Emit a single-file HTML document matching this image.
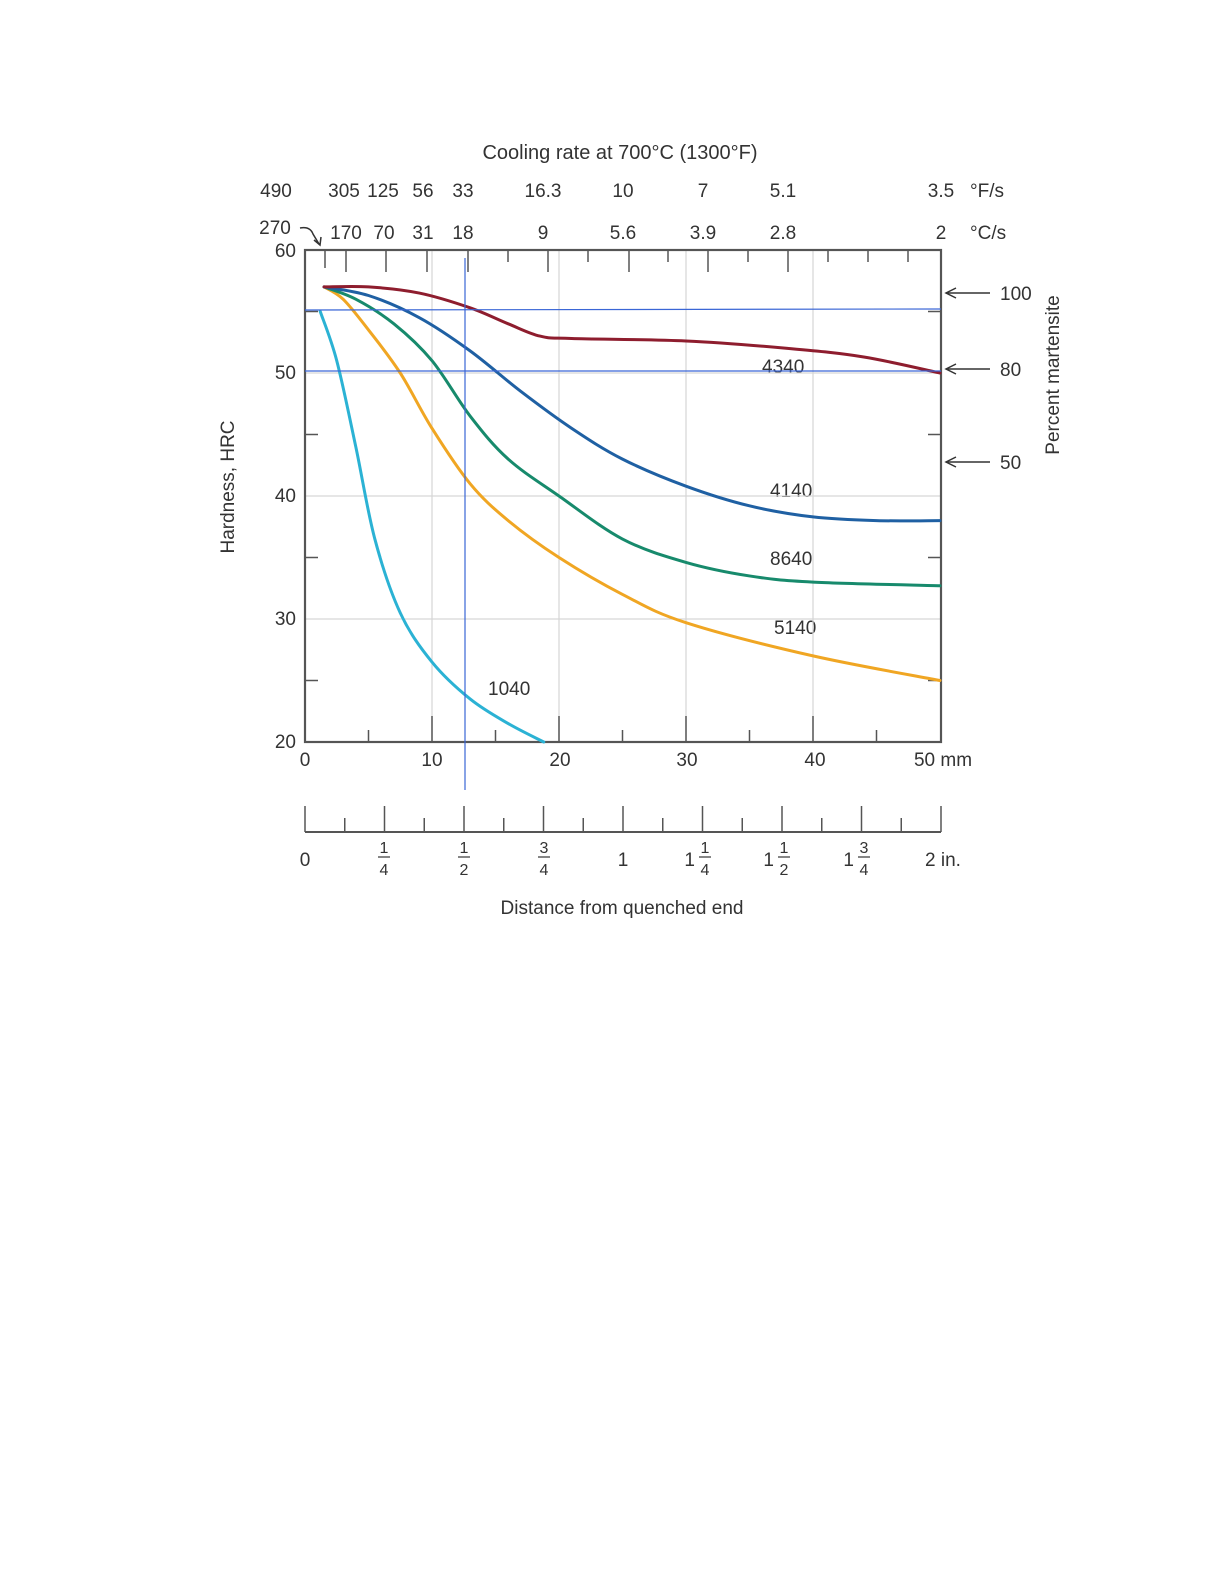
<!DOCTYPE html>
<html><head><meta charset="utf-8"><style>
body{margin:0;background:#fff}
svg text{font-family:"Liberation Sans",sans-serif;fill:#333}
</style></head><body>
<svg id="s" width="1225" height="1585" xmlns="http://www.w3.org/2000/svg">
<rect width="1225" height="1585" fill="#fff"/>
<g font-size="19">
<text x="620" y="159" text-anchor="middle" font-size="20">Cooling rate at 700°C (1300°F)</text>
<text x="276" y="197" text-anchor="middle">490</text>
<text x="344" y="197" text-anchor="middle">305</text>
<text x="383" y="197" text-anchor="middle">125</text>
<text x="423" y="197" text-anchor="middle">56</text>
<text x="463" y="197" text-anchor="middle">33</text>
<text x="543" y="197" text-anchor="middle">16.3</text>
<text x="623" y="197" text-anchor="middle">10</text>
<text x="703" y="197" text-anchor="middle">7</text>
<text x="783" y="197" text-anchor="middle">5.1</text>
<text x="941" y="197" text-anchor="middle">3.5</text>
<text x="970" y="197">°F/s</text>
<text x="275" y="234" text-anchor="middle">270</text>
<text x="346" y="239" text-anchor="middle">170</text>
<text x="384" y="239" text-anchor="middle">70</text>
<text x="423" y="239" text-anchor="middle">31</text>
<text x="463" y="239" text-anchor="middle">18</text>
<text x="543" y="239" text-anchor="middle">9</text>
<text x="623" y="239" text-anchor="middle">5.6</text>
<text x="703" y="239" text-anchor="middle">3.9</text>
<text x="783" y="239" text-anchor="middle">2.8</text>
<text x="941" y="239" text-anchor="middle">2</text>
<text x="970" y="239">°C/s</text>
<path d="M300 228 q10 -2 13 6 l6 10" fill="none" stroke="#333" stroke-width="1.5"/>
<path d="M314 240 l6 5 l1 -8" fill="none" stroke="#333" stroke-width="1.5"/>
<text x="296" y="257" text-anchor="end">60</text>
<text x="296" y="379" text-anchor="end">50</text>
<text x="296" y="502" text-anchor="end">40</text>
<text x="296" y="625" text-anchor="end">30</text>
<text x="296" y="748" text-anchor="end">20</text>
<text x="305" y="766" text-anchor="middle">0</text>
<text x="432" y="766" text-anchor="middle">10</text>
<text x="560" y="766" text-anchor="middle">20</text>
<text x="687" y="766" text-anchor="middle">30</text>
<text x="815" y="766" text-anchor="middle">40</text>
<text x="943" y="766" text-anchor="middle">50 mm</text>
<text x="305" y="866" text-anchor="middle">0</text>
<text x="623" y="866" text-anchor="middle">1</text>
<text x="943" y="866" text-anchor="middle">2 in.</text>
<text x="622" y="914" text-anchor="middle">Distance from quenched end</text>
<text transform="translate(234,487) rotate(-90)" text-anchor="middle">Hardness, HRC</text>
<text transform="translate(1059,375) rotate(-90)" text-anchor="middle">Percent martensite</text>
<text x="1000" y="300">100</text>
<text x="1000" y="376">80</text>
<text x="1000" y="469">50</text>
<text x="762" y="373">4340</text>
<text x="770" y="497">4140</text>
<text x="770" y="565">8640</text>
<text x="774" y="634">5140</text>
<text x="488" y="695">1040</text>
</g>
<g id="g"></g>
</svg>
<script>
var NS="http://www.w3.org/2000/svg",g=document.getElementById('g');
function px(m){return 305+12.7*m}function py(h){return 250+12.3*(60-h)}
function el(t,a){var e=document.createElementNS(NS,t);for(var k in a)e.setAttribute(k,a[k]);g.appendChild(e);return e}
function ln(x1,y1,x2,y2,c,w){el('line',{x1:x1,y1:y1,x2:x2,y2:y2,stroke:c,'stroke-width':w})}
[10,20,30,40].forEach(function(m){ln(px(m),250,px(m),742,'#d6d6d6',1.2)});
[30,40,50].forEach(function(h){ln(305,py(h),941,py(h),'#d6d6d6',1.2)});
[5,10,15,20,25,30,35,40,45].forEach(function(m){ln(px(m),742,px(m),m%10?730:716,'#555',1.5)});
[25,35,45,55].forEach(function(h){ln(305,py(h),318,py(h),'#555',1.5);ln(928,py(h),941,py(h),'#555',1.5)});
var big=[325,346,386,427,468,548,629,708,788];
big.forEach(function(x){ln(x,250,x,(x==325?268:272),'#555',1.5)});
[508,588,668,748,828,868,908].forEach(function(x){ln(x,250,x,262,'#555',1.5)});
el('rect',{x:305,y:250,width:636,height:492,fill:'none',stroke:'#555','stroke-width':2.2});
ln(305,832,941,832,'#555',2);
for(var i=0;i<=16;i++){var x=305+i*636/16;ln(x,832,x,i%2?818:806,'#555',1.5)}
var fr=[[1,'1','4',384],[2,'1','2',464],[3,'3','4',544],[5,'1','4',705],[6,'1','2',784],[7,'3','4',864]];
fr.forEach(function(f){var t1=el('text',{x:f[3],y:853,'text-anchor':'middle','font-size':16});t1.textContent=f[1];
ln(f[3]-6,857,f[3]+6,857,'#333',1.2);var t2=el('text',{x:f[3],y:875,'text-anchor':'middle','font-size':16});t2.textContent=f[2];
if(f[0]>4){var t=el('text',{x:f[3]-10,y:866,'text-anchor':'end','font-size':19});t.textContent='1';}});
[[293],[369],[462]].forEach(function(a){var y=a[0];ln(946,y,990,y,'#333',1.5);el('path',{d:'M956 '+(y-5)+' L946 '+y+' L956 '+(y+5),fill:'none',stroke:'#333','stroke-width':1.5})});
function curve(pts,c){var p=pts.map(function(q){return[px(q[0]),py(q[1])]});var d='M'+p[0][0]+' '+p[0][1];
for(var i=0;i<p.length-1;i++){var p0=p[i-1]||p[i],p1=p[i],p2=p[i+1],p3=p[i+2]||p2;
d+=' C'+(p1[0]+(p2[0]-p0[0])/6)+' '+(p1[1]+(p2[1]-p0[1])/6)+' '+(p2[0]-(p3[0]-p1[0])/6)+' '+(p2[1]-(p3[1]-p1[1])/6)+' '+p2[0]+' '+p2[1];}
el('path',{d:d,fill:'none',stroke:c,'stroke-width':3,'stroke-linecap':'round'})}
curve([[1.2,55],[2.5,51],[4,44],[5.5,36.5],[7.5,30.5],[10,26.5],[13,23.5],[16,21.5],[18.8,20]],'#2bb2d4');
curve([[1.5,57],[3,56],[5,53.5],[7.5,50],[10,45.5],[13,41],[16,38],[20,35],[25,32],[30,29.7],[40,27],[50,25]],'#f0a623');
curve([[1.5,57],[4,56],[7,54],[10,51],[13,46.5],[16,43],[20,40],[25,36.5],[30,34.6],[35,33.5],[40,33],[50,32.7]],'#178a6c');
curve([[1.5,57],[5,56.3],[9,54.5],[13,51.8],[17,48.5],[21,45.5],[25,43],[30,40.8],[35,39.2],[40,38.3],[45,38],[50,38]],'#1f60a3');
curve([[1.5,57],[5,57],[9,56.5],[13,55.3],[16,54],[18.5,53],[21,52.8],[30,52.6],[38,52],[44,51.3],[50,50]],'#8e1d2e');
ln(305,310,941,309,'#3a66d6',1.2);ln(305,371,941,371,'#3a66d6',1.2);ln(465,258,465,790,'#3a66d6',1.2);
</script>
</body></html>
